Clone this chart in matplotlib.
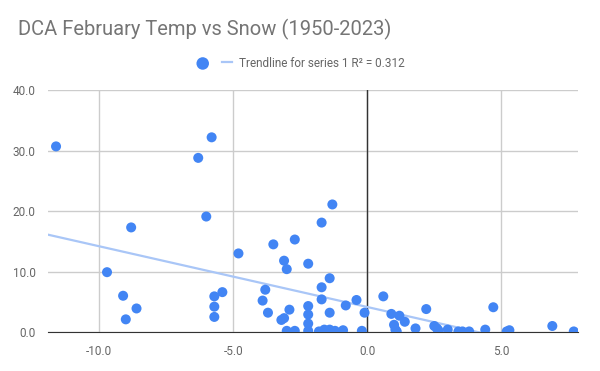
import matplotlib.pyplot as plt
import numpy as np

plt.rcParams['font.family'] = ['Roboto', 'DejaVu Sans']

# February mean temperature departure (F) vs snowfall (in), DCA 1950-2023
temp = [-11.6, -5.8, -6.3, -6.0, -8.8, -9.7, -9.1, -8.6, -9.0, -4.8,
        -5.4, -5.7, -5.7, -5.7, -1.3, -1.7, -2.7, -3.5, -3.1, -3.0,
        -2.2, -1.4, -1.7, -1.7, -3.8, -3.9, -3.7, -0.8, -0.4, -0.1,
        -2.2, -2.2, -2.2, -1.4, -2.9, -3.1, -3.2, -3.0, -2.7, -2.2,
        -1.8, -1.6, -1.4, -1.2, -0.9, -0.2, 0.6, 0.9, 1.2, 1.4,
        1.0, 1.05, 1.8, 2.2, 2.5, 2.6, 3.0, 3.4, 3.55, 3.8,
        4.4, 4.7, 5.2, 5.3, 6.9, 7.7, 1.1, 2.65]
snow = [30.7, 32.2, 28.8, 19.1, 17.3, 9.9, 6.0, 3.9, 2.1, 13.0,
        6.6, 5.9, 4.2, 2.5, 21.1, 18.1, 15.3, 14.5, 11.8, 10.4,
        11.3, 8.9, 7.4, 5.4, 7.0, 5.2, 3.2, 4.4, 5.3, 3.2,
        4.3, 2.9, 1.4, 3.2, 3.7, 2.3, 2.0, 0.2, 0.2, 0.2,
        0.1, 0.4, 0.4, 0.2, 0.3, 0.2, 5.9, 3.0, 2.7, 1.7,
        1.2, 0.4, 0.6, 3.8, 1.0, 0.6, 0.4, 0.1, 0.1, 0.1,
        0.4, 4.1, 0.1, 0.3, 1.0, 0.1, 0.1, 0.3]

x = np.array(temp)
y = np.array(snow)
slope, icpt = np.polyfit(x, y, 1)

fig = plt.figure(figsize=(6, 3.71), dpi=100)
ax = fig.add_axes([0.08, 0.105, 0.883, 0.652])

xl = (-11.9, 7.85)
xs = np.linspace(xl[0], xl[1], 100)
line, = ax.plot(xs, slope * xs + icpt, color='#a9c6f7', lw=1.6, zorder=2,
                label='Trendline for series 1 R² = 0.312')
pts = ax.scatter(x, y, s=52, color='#4285f4', edgecolors='none', zorder=3,
                 label=' ')

ax.set_xlim(*xl)
ax.set_ylim(0, 40)
ax.set_xticks([-10, -5, 0, 5])
ax.set_xticklabels(['-10.0', '-5.0', '0.0', '5.0'])
ax.set_yticks([0, 10, 20, 30, 40])
ax.set_yticklabels(['0.0', '10.0', '20.0', '30.0', '40.0'])
ax.grid(True, color='#cccccc', lw=1)
ax.axvline(0, color='#333333', lw=1, zorder=1)
ax.set_axisbelow(True)
for s in ['top', 'right', 'left']:
    ax.spines[s].set_visible(False)
ax.spines['bottom'].set_color('#333333')
ax.tick_params(length=0, labelsize=8.5, labelcolor='#666666', pad=9)

fig.text(0.03, 0.905, 'DCA February Temp vs Snow (1950-2023)', fontsize=14.5,
         color='#757575')
fig.legend(handles=[pts, line], loc='center', bbox_to_anchor=(0.502, 0.83),
           ncol=2, frameon=False, fontsize=8.5, labelcolor='#666666',
           handlelength=0.8, columnspacing=0.4, handletextpad=0.6,
           markerscale=1.25)

fig.savefig('out.png', dpi=100)
